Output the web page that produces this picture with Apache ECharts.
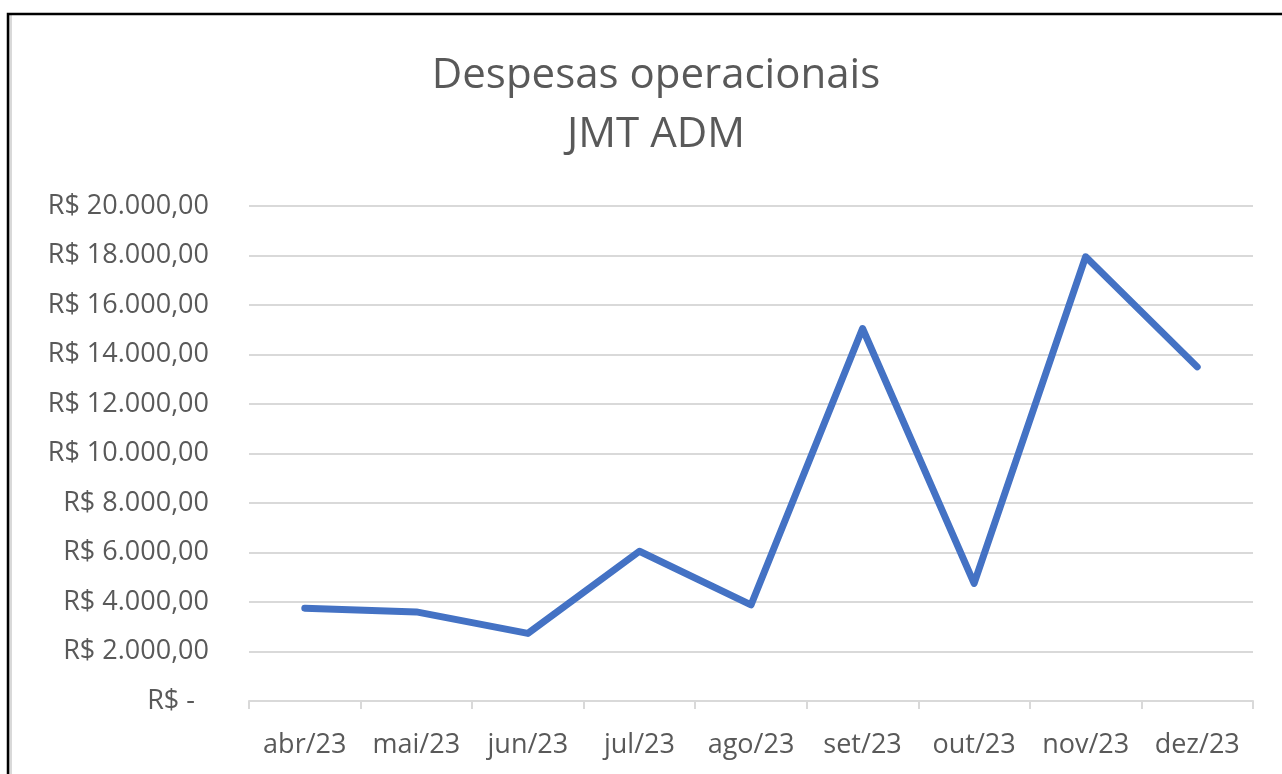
<!DOCTYPE html>
<html>
<head>
<meta charset="utf-8">
<script src="https://cdn.jsdelivr.net/npm/echarts@6/dist/echarts.min.js"></script>
<style>
html,body{margin:0;padding:0;background:#fff;}
#c{width:1282px;height:774px;}
</style>
</head>
<body>
<div id="c"></div>
<script>
const categories = ['abr/23','mai/23','jun/23','jul/23','ago/23','set/23','out/23','nov/23','dez/23'];
const values = [3750, 3600, 2730, 6050, 3880, 15050, 4750, 17950, 13500];
const yTicks = {min: 0, max: 20000, interval: 2000};
const titleLines = ['Despesas operacionais', 'JMT ADM'];

function fmt(v) {
  if (v === 0) return 'R$ -  ';
  const s = Math.round(v).toString().replace(/\B(?=(\d{3})+(?!\d))/g, '.');
  return 'R$ ' + s + ',00';
}

const chart = echarts.init(document.getElementById('c'), null, {renderer: 'canvas'});
const FONT = '"Open Sans", "Liberation Sans", sans-serif';
chart.setOption({
  backgroundColor: '#ffffff',
  animation: false,
  title: {
    text: titleLines.join('\n'),
    left: 651,
    top: 42,
    textAlign: 'center',
    textStyle: {
      fontFamily: FONT,
      fontSize: 42,
      fontWeight: 'normal',
      color: '#595959',
      lineHeight: 59
    }
  },
  graphic: [
    {type: 'rect', shape: {x: 9, y: 15, width: 3, height: 800}, style: {fill: '#d9d9d9'}, silent: true},
    {type: 'rect', shape: {x: 8, y: 14, width: 1400, height: 900}, style: {fill: 'none', stroke: '#000000', lineWidth: 2.5}, silent: true}
  ],
  grid: {left: 249, right: 29, top: 206, bottom: 73, containLabel: false},
  xAxis: {
    type: 'category',
    data: categories,
    boundaryGap: true,
    axisLine: {show: true, lineStyle: {color: '#d9d9d9', width: 2}},
    axisTick: {show: true, interval: 0, alignWithLabel: false, length: 8, lineStyle: {color: '#d9d9d9', width: 2}},
    axisLabel: {interval: 0, hideOverlap: false, fontFamily: FONT, fontSize: 27, color: '#595959', margin: 31},
    splitLine: {show: false}
  },
  yAxis: {
    type: 'value',
    min: yTicks.min,
    max: yTicks.max,
    interval: yTicks.interval,
    axisLine: {show: false},
    axisTick: {show: false},
    axisLabel: {fontFamily: FONT, fontSize: 27, color: '#595959', margin: 40, formatter: fmt},
    splitLine: {show: true, lineStyle: {color: '#d9d9d9', width: 2}}
  },
  series: [{
    type: 'line',
    data: values,
    symbol: 'none',
    lineStyle: {color: '#4472C4', width: 7, cap: 'round', join: 'round'},
    z: 5
  }]
});
</script>
</body>
</html>
